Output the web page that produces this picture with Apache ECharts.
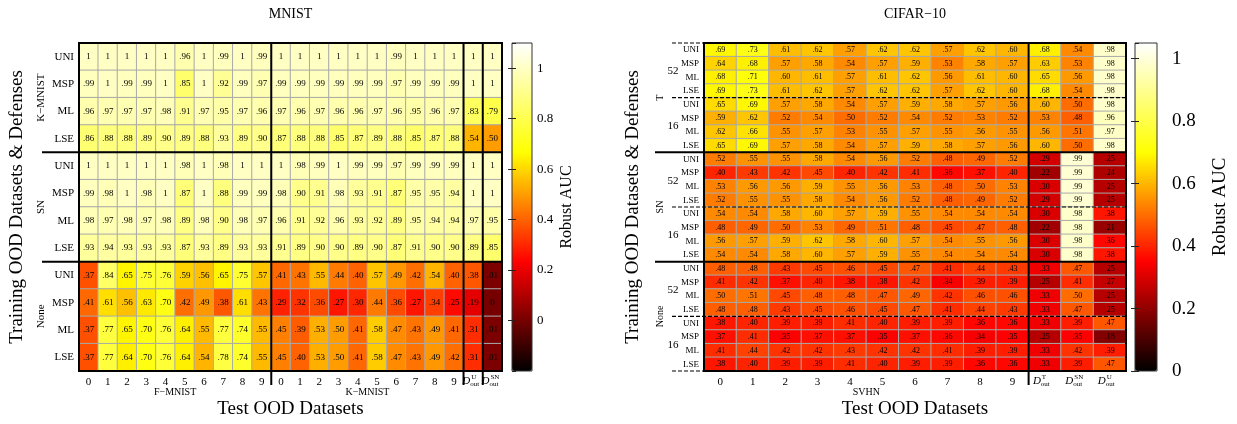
<!DOCTYPE html>
<html><head><meta charset="utf-8">
<script src="https://cdn.jsdelivr.net/npm/echarts@6/dist/echarts.min.js"></script>
<style>html,body{margin:0;padding:0;background:#fff}#c{width:1237px;height:424px}</style>
</head><body><div id="c"></div>
<script>
// ---------- labels ----------
const defenses = ['UNI', 'MSP', 'ML', 'LSE'];
const mnistTrainGroups = ['K−MNIST', 'SN', 'None'];
const mnistTestGroups = ['F−MNIST', 'K−MNIST'];
const mnistXLabels = ['0','1','2','3','4','5','6','7','8','9','0','1','2','3','4','5','6','7','8','9','',''];
const mnistDLabels = ['U', 'SN'];
const cifarTrainGroups = ['T', 'SN', 'None'];
const cifarSizes = ['52', '16'];
const cifarTestGroups = ['SVHN'];
const cifarXLabels = ['0','1','2','3','4','5','6','7','8','9','','',''];
const cifarDLabels = ['T', 'SN', 'U'];
const mnistTicks = [0, 0.2, 0.4, 0.6, 0.8, 1];
const cifarTicks = [0, 0.2, 0.4, 0.6, 0.8, 1];

// ---------- MNIST values (rows UNI, MSP, ML, LSE; cols F-MNIST 0-9, K-MNIST 0-9, D_U, D_SN) ----------
const mnistKMNIST = [
  [1, 1, 1, 1, 1, .96, 1, .99, 1, .99,  1, 1, 1, 1, 1, 1, .99, 1, 1, 1,  1, 1],
  [.99, 1, .99, .99, 1, .85, 1, .92, .99, .97,  .99, .99, .99, .99, .99, .99, .97, .99, .99, .99,  1, 1],
  [.96, .97, .97, .97, .98, .91, .97, .95, .97, .96,  .97, .96, .97, .96, .96, .97, .96, .95, .96, .97,  .83, .79],
  [.86, .88, .88, .89, .90, .89, .88, .93, .89, .90,  .87, .88, .88, .85, .87, .89, .88, .85, .87, .88,  .54, .50]
];
const mnistSN = [
  [1, 1, 1, 1, 1, .98, 1, .98, 1, 1,  1, .98, .99, 1, .99, .99, .97, .99, .99, .99,  1, 1],
  [.99, .98, 1, .98, 1, .87, 1, .88, .99, .99,  .98, .90, .91, .98, .93, .91, .87, .95, .95, .94,  1, 1],
  [.98, .97, .98, .97, .98, .89, .98, .90, .98, .97,  .96, .91, .92, .96, .93, .92, .89, .95, .94, .94,  .97, .95],
  [.93, .94, .93, .93, .93, .87, .93, .89, .93, .93,  .91, .89, .90, .90, .89, .90, .87, .91, .90, .90,  .89, .85]
];
const mnistNone = [
  [.37, .84, .65, .75, .76, .59, .56, .65, .75, .57,  .41, .43, .55, .44, .40, .57, .49, .42, .54, .40,  .38, .01],
  [.41, .61, .56, .63, .70, .42, .49, .38, .61, .43,  .29, .32, .36, .27, .30, .44, .36, .27, .34, .25,  .19, 0],
  [.37, .77, .65, .70, .76, .64, .55, .77, .74, .55,  .45, .39, .53, .50, .41, .58, .47, .43, .49, .41,  .31, .01],
  [.37, .77, .64, .70, .76, .64, .54, .78, .74, .55,  .45, .40, .53, .50, .41, .58, .47, .43, .49, .42,  .31, .01]
];

// ---------- CIFAR-10 values (cols SVHN 0-9, D_T, D_SN, D_U) ----------
const cifarT52 = [
  [.69, .73, .61, .62, .57, .62, .62, .57, .62, .60,  .68, .54, .98],
  [.64, .68, .57, .58, .54, .57, .59, .53, .58, .57,  .63, .53, .98],
  [.68, .71, .60, .61, .57, .61, .62, .56, .61, .60,  .65, .56, .98],
  [.69, .73, .61, .62, .57, .62, .62, .57, .62, .60,  .68, .54, .98]
];
const cifarT16 = [
  [.65, .69, .57, .58, .54, .57, .59, .58, .57, .56,  .60, .50, .98],
  [.59, .62, .52, .54, .50, .52, .54, .52, .53, .52,  .53, .48, .96],
  [.62, .66, .55, .57, .53, .55, .57, .55, .56, .55,  .56, .51, .97],
  [.65, .69, .57, .58, .54, .57, .59, .58, .57, .56,  .60, .50, .98]
];
const cifarSN52 = [
  [.52, .55, .55, .58, .54, .56, .52, .48, .49, .52,  .29, .99, .25],
  [.40, .43, .42, .45, .40, .42, .41, .36, .37, .40,  .22, .99, .24],
  [.53, .56, .56, .59, .55, .56, .53, .48, .50, .53,  .30, .99, .25],
  [.52, .55, .55, .58, .54, .56, .52, .48, .49, .52,  .29, .99, .25]
];
const cifarSN16 = [
  [.54, .54, .58, .60, .57, .59, .55, .54, .54, .54,  .30, .98, .38],
  [.48, .49, .50, .53, .49, .51, .48, .45, .47, .48,  .22, .98, .21],
  [.56, .57, .59, .62, .58, .60, .57, .54, .55, .56,  .30, .98, .36],
  [.54, .54, .58, .60, .57, .59, .55, .54, .54, .54,  .30, .98, .38]
];
const cifarNone52 = [
  [.48, .48, .43, .45, .46, .45, .47, .41, .44, .43,  .33, .47, .25],
  [.41, .42, .37, .40, .38, .38, .42, .34, .39, .39,  .25, .41, .27],
  [.50, .51, .45, .48, .48, .47, .49, .42, .46, .46,  .33, .50, .25],
  [.48, .48, .43, .45, .46, .45, .47, .41, .44, .43,  .33, .47, .25]
];
const cifarNone16 = [
  [.38, .40, .39, .39, .41, .40, .39, .39, .36, .36,  .33, .39, .47],
  [.37, .41, .35, .37, .37, .35, .37, .36, .34, .35,  .25, .35, .18],
  [.41, .44, .42, .42, .43, .42, .42, .41, .39, .39,  .33, .42, .39],
  [.38, .40, .39, .39, .41, .40, .39, .39, .36, .36,  .33, .39, .47]
];

// ---------- build ----------
const FONT = 'Liberation Serif';
const hot = ['#000000', '#ff0000', '#ffff00', '#ffffff'];
function fmt(v) { if (v === 1) return '1'; if (v === 0) return '0'; return v.toFixed(2).replace(/^0/, ''); }
function toCells(blocks) {
  const out = []; let r = 0;
  blocks.forEach(b => b.forEach(row => { row.forEach((v, c) => out.push([c, r, v])); r++; }));
  return { cells: out, rows: r };
}
const mnist = toCells([mnistKMNIST, mnistSN, mnistNone]);
const cifar = toCells([cifarT52, cifarT16, cifarSN52, cifarSN16, cifarNone52, cifarNone16]);
const mnistRowCats = Array.from({ length: mnist.rows }, (_, i) => 'r' + i);
const cifarRowCats = Array.from({ length: cifar.rows }, (_, i) => 'r' + i);

const chart = echarts.init(document.getElementById('c'), null, { renderer: 'canvas' });

function catX(data, size) {
  return { type: 'category', data: data.map((d, i) => ({ value: 'c' + i, label: d })),
    axisLine: { show: false }, axisTick: { show: false }, splitLine: { show: false },
    axisLabel: { interval: 0, fontSize: size, fontFamily: FONT, color: '#000', margin: 6,
      formatter: (v, i) => data[i] } };
}
function catY(cats, size) {
  return { type: 'category', inverse: true, data: cats,
    axisLine: { show: false }, axisTick: { show: false }, splitLine: { show: false },
    axisLabel: { interval: 0, fontSize: size, fontFamily: FONT, color: '#000', margin: 5,
      formatter: (v, i) => defenses[i % 4] } };
}
function cbAxis(grid, min, max, pos, showLabel, fs, margin) {
  return { gridIndex: grid, type: 'value', min: min, max: max, interval: 0.2, position: pos, z: 10,
    axisLine: { show: false }, splitLine: { show: false },
    axisTick: { show: true, inside: true, length: 4, lineStyle: { color: '#222', width: 1 } },
    axisLabel: { show: showLabel, fontSize: fs, fontFamily: FONT, color: '#000', margin: margin,
      showMinLabel: min === 0, showMaxLabel: false,
      formatter: v => String(Number(v.toFixed(1))) } };
}

const option = {
  backgroundColor: '#fff',
  animation: false,
  grid: [
    { left: 79, top: 43, width: 423, height: 328 },
    { left: 512, top: 43, width: 20, height: 328, show: true, borderColor: '#333', borderWidth: 1, backgroundColor: 'rgba(0,0,0,0)', z: 10 },
    { left: 704, top: 43, width: 422, height: 328 },
    { left: 1135, top: 43, width: 22, height: 328, show: true, borderColor: '#333', borderWidth: 1, backgroundColor: 'rgba(0,0,0,0)', z: 10 }
  ],
  xAxis: [
    Object.assign({ gridIndex: 0 }, catX(mnistXLabels, 11)),
    { gridIndex: 1, type: 'value', min: 0, max: 1, show: false },
    Object.assign({ gridIndex: 2 }, catX(cifarXLabels, 11)),
    { gridIndex: 3, type: 'value', min: 0, max: 1, show: false }
  ],
  yAxis: [
    Object.assign({ gridIndex: 0 }, catY(mnistRowCats, 11)),
    cbAxis(1, -0.2, 1.1, 'right', true, 13, 5),
    cbAxis(1, -0.2, 1.1, 'left', false, 13, 5),
    Object.assign({ gridIndex: 2 }, catY(cifarRowCats, 9)),
    cbAxis(3, 0, 1.05, 'right', true, 19, 15),
    cbAxis(3, 0, 1.05, 'left', false, 19, 15)
  ],
  visualMap: [
    { type: 'continuous', seriesIndex: 0, min: -0.2, max: 1.1, inRange: { color: hot },
      left: 512, top: 43, itemWidth: 20, itemHeight: 328, padding: 0, calculable: false,
      showLabel: false, hoverLink: false, text: null },
    { type: 'continuous', seriesIndex: 1, min: 0, max: 1.05, inRange: { color: hot },
      left: 1135, top: 43, itemWidth: 22, itemHeight: 328, padding: 0, calculable: false,
      showLabel: false, hoverLink: false, text: null }
  ],
  series: [
    { type: 'heatmap', xAxisIndex: 0, yAxisIndex: 0, data: mnist.cells,
      itemStyle: { borderColor: '#a9a9a9', borderWidth: 1 },
      label: { show: true, fontSize: 9, fontFamily: FONT, color: '#000', formatter: p => fmt(p.value[2]) },
      emphasis: { disabled: true } },
    { type: 'heatmap', xAxisIndex: 2, yAxisIndex: 3, data: cifar.cells,
      itemStyle: { borderColor: '#a9a9a9', borderWidth: 1 },
      label: { show: true, fontSize: 8, fontFamily: FONT, color: '#000', formatter: p => fmt(p.value[2]) },
      emphasis: { disabled: true } }
  ]
};
chart.setOption(option);

// ---------- overlays positioned from the axes' scales ----------
function gridBox(gridIndex, nCols, nRows) {
  const a = chart.convertToPixel({ gridIndex: gridIndex }, [0, 0]);
  const b = chart.convertToPixel({ gridIndex: gridIndex }, [1, 1]);
  const cw = b[0] - a[0], ch = b[1] - a[1];
  const x0 = a[0] - cw / 2, y0 = a[1] - ch / 2;
  return { x0: x0, y0: y0, cw: cw, ch: ch, x1: x0 + cw * nCols, y1: y0 + ch * nRows,
    cx: i => x0 + cw * (i + 0.5), cy: j => y0 + ch * (j + 0.5), xe: i => x0 + cw * i, ye: j => y0 + ch * j };
}
const M = gridBox(0, 22, 12);
const C = gridBox(2, 13, 24);
const g = [];
function line(x1, y1, x2, y2, w, dash) {
  g.push({ type: 'line', z: 100, shape: { x1: x1, y1: y1, x2: x2, y2: y2 },
    style: { stroke: '#000', lineWidth: w, lineDash: dash || null } });
}
function text(t, x, y, size, opts) {
  opts = opts || {};
  g.push({ type: 'text', z: 100, x: x, y: y, rotation: opts.rot || 0,
    style: { text: t, fontSize: size, fontFamily: FONT, fill: '#000', fontStyle: opts.italic ? 'italic' : 'normal',
      align: opts.align || 'center', verticalAlign: opts.va || 'middle' } });
}
function dLabel(sup, x, y, big, small) {
  text('D', x - 1, y, big, { align: 'right', italic: true });
  text(sup, x, y - big * 0.32, small, { align: 'left' });
  text('out', x - 1, y + big * 0.32, small, { align: 'left' });
}

// MNIST frame and separators
g.push({ type: 'rect', z: 100, shape: { x: M.x0, y: M.y0, width: M.x1 - M.x0, height: M.y1 - M.y0 },
  style: { fill: 'none', stroke: '#000', lineWidth: 2 } });
[10, 20, 21].forEach(c => line(M.xe(c), M.y0, M.xe(c), M.y1 + 14, 2));
[4, 8].forEach(r => line(M.x0 - 37, M.ye(r), M.x1, M.ye(r), 2));
mnistTrainGroups.forEach((t, k) => text(t, M.x0 - 38, M.ye(4 * k + 2), 11, { rot: Math.PI / 2 }));
mnistTestGroups.forEach((t, k) => text(t, (M.xe(10 * k) + M.xe(10 * k + 10)) / 2, M.y1 + 21, 10));
mnistDLabels.forEach((t, k) => dLabel(t, M.cx(20 + k) - 2, M.y1 + 10, 11, 7));
text('MNIST', (M.x0 + M.x1) / 2, 14, 14);
text('Test OOD Datasets', (M.x0 + M.x1) / 2, M.y1 + 38, 19);
text('Training OOD Datasets & Defenses', M.x0 - 62, (M.y0 + M.y1) / 2, 19, { rot: Math.PI / 2 });
text('Robust AUC', 567, (M.y0 + M.y1) / 2, 16, { rot: Math.PI / 2 });

// CIFAR frame and separators
g.push({ type: 'rect', z: 100, shape: { x: C.x0, y: C.y0, width: C.x1 - C.x0, height: C.y1 - C.y0 },
  style: { fill: 'none', stroke: '#000', lineWidth: 2 } });
line(C.xe(10), C.y0, C.xe(10), C.y1 + 14, 2);
[8, 16].forEach(r => line(C.x0 - 49, C.ye(r), C.x1, C.ye(r), 2));
[4, 12, 20].forEach(r => line(C.x0 - 32, C.ye(r), C.x1, C.ye(r), 1.2, [4, 2]));
[0, 24].forEach(r => line(C.x0 - 32, C.ye(r), C.x0, C.ye(r), 1.2, [4, 2]));
cifarTrainGroups.forEach((t, k) => text(t, C.x0 - 44, C.ye(8 * k + 4), 10, { rot: Math.PI / 2 }));
for (let k = 0; k < 6; k++) text(cifarSizes[k % 2], C.x0 - 31, C.ye(4 * k + 2) + 1, 11);
cifarTestGroups.forEach((t, k) => text(t, (C.xe(0) + C.xe(10)) / 2, C.y1 + 21, 10));
cifarDLabels.forEach((t, k) => dLabel(t, C.cx(10 + k) - 3, C.y1 + 10, 11, 7));
text('CIFAR−10', (C.x0 + C.x1) / 2, 14, 14);
text('Test OOD Datasets', (C.x0 + C.x1) / 2, C.y1 + 38, 19);
text('Training OOD Datasets & Defenses', C.x0 - 71, (C.y0 + C.y1) / 2, 19, { rot: Math.PI / 2 });
text('Robust AUC', 1220, (C.y0 + C.y1) / 2, 19, { rot: Math.PI / 2 });

chart.setOption({ graphic: { elements: g } });
</script>
</body></html>
